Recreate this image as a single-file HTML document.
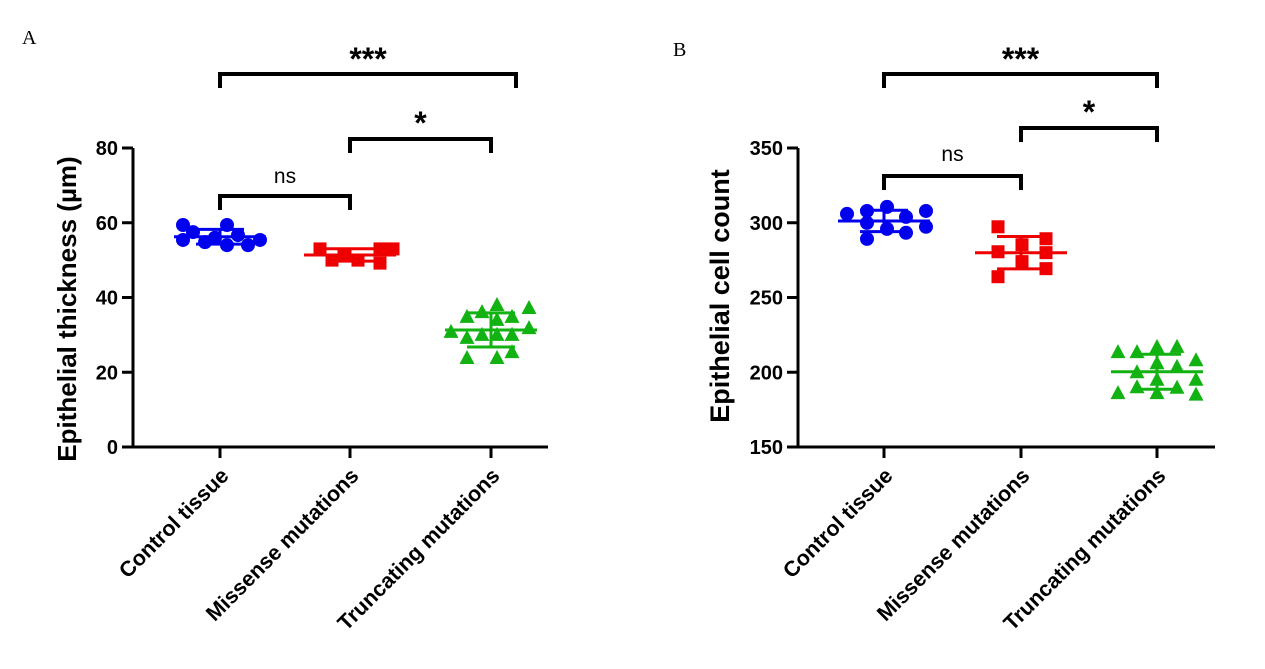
<!DOCTYPE html>
<html><head><meta charset="utf-8"><style>
body{margin:0;background:#fff;}
svg{display:block;font-family:"Liberation Sans",Arial,sans-serif;}
</style></head><body>
<svg id="s" width="1265" height="669" viewBox="0 0 1265 669">
<text x="22" y="44" font-family="Liberation Serif,serif" font-size="20">A</text>
<text x="673" y="56" font-family="Liberation Serif,serif" font-size="20">B</text>
</svg>
<script>
const categories = ["Control tissue","Missense mutations","Truncating mutations"];
const thickControl = [59.4,55.4,57.5,54.8,56.0,59.4,54.0,56.7,54.0,55.4];
const thickMissense = [53.0,50.0,51.5,50.0,53.0,49.2,53.0];
const thickTruncating = [30.8,34.8,29.2,23.8,36.1,30.0,38.0,34.0,30.0,23.8,34.8,30.0,25.4,37.2,31.8];
const countControl = [305.9,307.9,299.9,289.2,310.6,295.9,303.9,293.3,307.9,297.3];
const countMissense = [297.3,280.6,263.9,285.3,274.0,289.3,280.0,269.3];
const countTruncating = [213.5,186.0,213.5,200.0,190.0,216.9,206.0,195.0,186.0,217.0,203.6,189.6,208.0,195.0,185.0];
const ticksA = [0,20,40,60,80];
const ticksB = [150,200,250,300,350];
// horizontal jitter offsets (layout, px)
const jitA = [[-37,-37,-27,-15,-5,7,7,18,28,40],[-30,-18,-6,8,30,30,43],[-40,-24,-24,-24,-9,-9,6,6,6,6,21,21,21,38,38]];
const jitB = [[-37,-17,-17,-17,3,3,22,22,42,42],[-23,-23,-23,1,1,25,25,25],[-39,-39,-20,-20,-20,0,0,0,0,20,20,20,39,39,39]];

const S = document.getElementById('s');
const NS = 'http://www.w3.org/2000/svg';
function mk(tag, attrs){const e=document.createElementNS(NS,tag);for(const k in attrs)e.setAttribute(k,attrs[k]);S.appendChild(e);return e;}
function mean(a){return a.reduce((p,c)=>p+c,0)/a.length;}
function sd(a){const m=mean(a);return Math.sqrt(a.reduce((p,c)=>p+(c-m)*(c-m),0)/(a.length-1));}

function panel(o){
  const y = v => o.y0 - (v - o.min) / (o.max - o.min) * (o.y0 - o.y1);
  const ax = mk('path',{d:`M${o.ax} ${o.y1}V${o.y0}H${o.axEnd}`,stroke:'#000','stroke-width':3,fill:'none'});
  
  
  o.ticks.forEach(t=>{
    const l=mk('line',{x1:o.ax-11,x2:o.ax,y1:y(t),y2:y(t),stroke:'#000','stroke-width':3});
    
    
    const tx=mk('text',{x:o.ax-15,y:y(t)+7,'text-anchor':'end','font-size':20,'font-weight':'bold'});
    tx.textContent=t;
    
    
  });
  const ttl=mk('text',{x:0,y:0,'text-anchor':'middle','font-size':o.titleSize,'font-weight':'bold',transform:`translate(${o.titleX},${o.titleY}) rotate(-90)`});
  ttl.textContent=o.title;
  
  
  categories.forEach((c,i)=>{
    const cx=o.cx[i];
    const l=mk('line',{x1:cx,x2:cx,y1:o.y0,y2:o.y0+11,stroke:'#000','stroke-width':3});
    
    
    const t=mk('text',{x:0,y:0,'text-anchor':'end','font-size':21.5,'font-weight':'bold',transform:`translate(${cx+10},${o.y0+30}) rotate(-45)`});
    t.textContent=c;
    
    
  });
  const cols=['#0000ee','#ee0000','#11b211'];
  o.series.forEach((arr,i)=>{
    const cx=o.cx[i], col=cols[i];
    arr.forEach((v,j)=>{
      const px=cx+o.jit[i][j], py=y(v);
      let e;
      if(i===0) e=mk('circle',{cx:px,cy:py,r:7,fill:col});
      else if(i===1) e=mk('rect',{x:px-6.5,y:py-6.5,width:13,height:13,fill:col});
      else e=mk('polygon',{points:`${px},${py-8} ${px+7.5},${py+6} ${px-7.5},${py+6}`,fill:col});
      
      
    });
    const m=mean(arr), s=sd(arr);
    const ml=mk('line',{x1:cx-46,x2:cx+46,y1:y(m),y2:y(m),stroke:col,'stroke-width':3});
    
    
    const er=mk('path',{d:`M${cx-24} ${y(m+s)}H${cx+24}M${cx-24} ${y(m-s)}H${cx+24}M${cx} ${y(m+s)}V${y(m-s)}`,stroke:col,'stroke-width':3,fill:'none'});
    
    
  });
  o.brackets.forEach(b=>{
    const x2 = b.x2 !== undefined ? b.x2 : o.cx[b.b];
    const p=mk('path',{d:`M${o.cx[b.a]} ${b.y+14}V${b.y}H${x2}V${b.y+14}`,stroke:'#000','stroke-width':4,fill:'none'});
    
    
    const t=mk('text',{x:(o.cx[b.a]+x2)/2,y:b.ty,'text-anchor':'middle','font-size':b.lab==='ns'?21:32,'font-weight':b.lab==='ns'?'normal':'bold'});
    t.textContent=b.lab;
    
    
  });
}
panel({id:'a',ax:133,axEnd:548,y0:447,y1:148,min:0,max:80,ticks:ticksA,cx:[220,350,491],
  title:'Epithelial thickness (µm)',titleSize:26,titleX:76,titleY:309,
  series:[thickControl,thickMissense,thickTruncating],jit:jitA,
  brackets:[{a:0,b:2,x2:516,y:74,ty:70,lab:'***'},{a:1,b:2,y:139,ty:134,lab:'*'},{a:0,b:1,y:196,ty:183,lab:'ns'}]});
panel({id:'b',ax:798,axEnd:1215,y0:447,y1:148,min:150,max:350,ticks:ticksB,cx:[884,1021,1157],
  title:'Epithelial cell count',titleSize:27,titleX:729,titleY:296,
  series:[countControl,countMissense,countTruncating],jit:jitB,
  brackets:[{a:0,b:2,y:74,ty:70,lab:'***'},{a:1,b:2,y:128,ty:123,lab:'*'},{a:0,b:1,y:176,ty:161,lab:'ns'}]});
</script>
</body></html>
